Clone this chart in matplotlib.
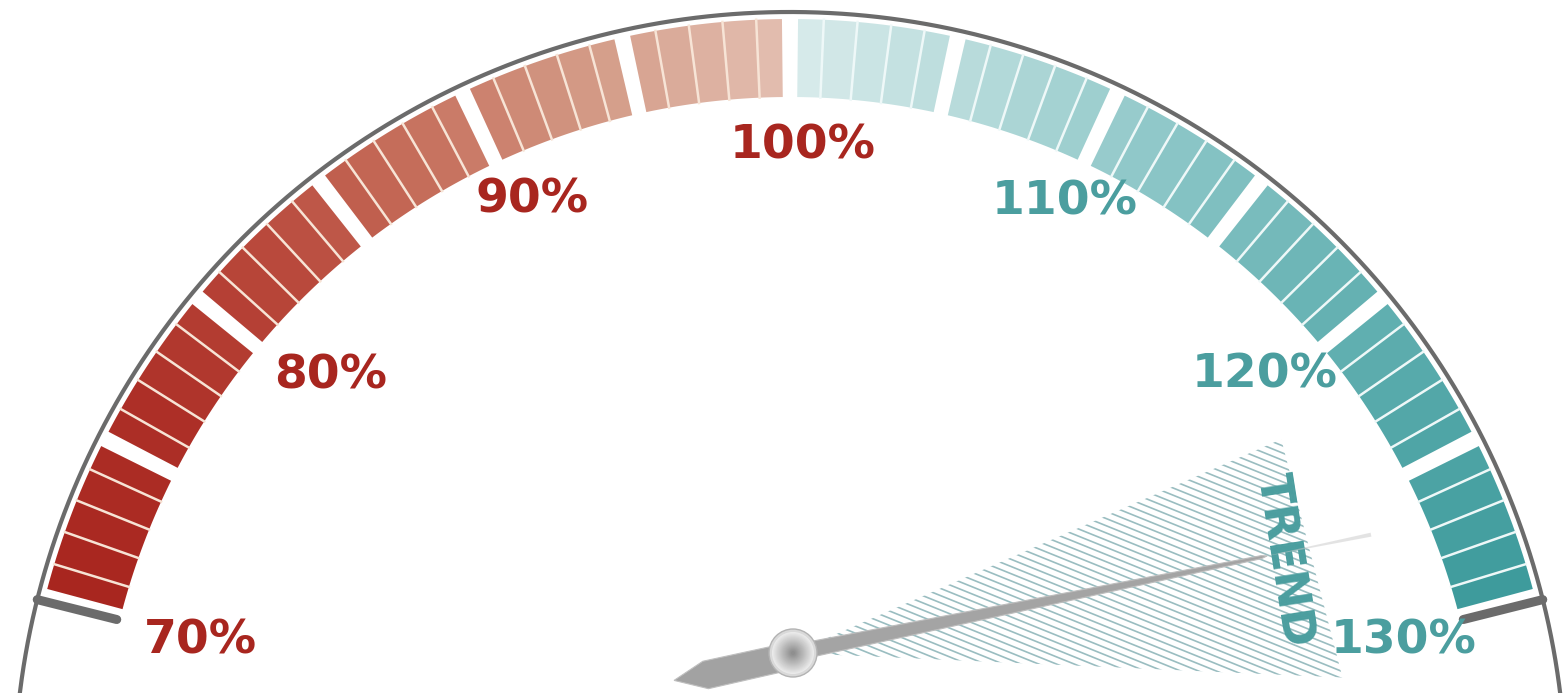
import numpy as np
import matplotlib.pyplot as plt
from matplotlib.patches import Wedge, Polygon, Circle
from matplotlib.collections import LineCollection
from matplotlib.colors import LinearSegmentedColormap

# gauge data
scale_min = 70
scale_max = 130
tick_values = [70, 80, 90, 100, 110, 120, 130]
tick_labels = ["70%", "80%", "90%", "100%", "110%", "120%", "130%"]
block_values = list(range(70, 130))   # one block per percent
group_size = 5
needle_value = 127
trend_low = 122.5
trend_high = 132.5
trend_label = "TREND"

# geometry (pixel-like units, origin at arc centre)
DEG_PER_UNIT = 2.52
R_OUT, R_IN, R_RIM = 769, 691, 776
R_MID = 730
GAP = 1.2
PIVOT = np.array([3.0, 135.0])

RED = "#a8261f"
TEAL = "#4b9e9f"
GREY = "#6b6b6b"

left_cmap = LinearSegmentedColormap.from_list(
    "left", ["#a8261f", "#ad2f27", "#b8473a", "#c66f5c", "#d39a86", "#e2bcae"])
right_cmap = LinearSegmentedColormap.from_list(
    "right", ["#d6eaea", "#b3d9d9", "#8cc6c7", "#6cb5b6", "#52a7a8", "#3e9b9c"])


def ang(v):
    return 90 + (100 - v) * DEG_PER_UNIT


def pol(r, a):
    t = np.radians(a)
    return np.array([r * np.cos(t), r * np.sin(t)])


def pivot_dir(v):
    p = pol(R_MID, ang(v)) - PIVOT
    return np.degrees(np.arctan2(p[1], p[0]))


fig = plt.figure(figsize=(15.67, 6.93), dpi=100)
ax = fig.add_axes([0, 0, 1, 1])
ax.set_xlim(-790, 777)
ax.set_ylim(95, 788)
ax.axis("off")

# outer rim
th = np.linspace(0, 180, 400)
ax.plot(R_RIM * np.cos(np.radians(th)), R_RIM * np.sin(np.radians(th)),
        color=GREY, lw=3.0, zorder=1)

# blocks
for v in block_values:
    a1, a2 = ang(v + 1), ang(v)
    if (v - scale_min) % group_size == 0:
        a2 -= GAP / 2
    if (v + 1 - scale_min) % group_size == 0:
        a1 += GAP / 2
    if v < 100:
        c = left_cmap((v - scale_min) / 29)
    else:
        c = right_cmap((v - 100) / 29)
    ax.add_patch(Wedge((0, 0), R_OUT, a1, a2, width=R_OUT - R_IN,
                       facecolor=c, edgecolor="none", zorder=2))
    if (v - scale_min) % group_size != 0:
        p1, p2 = pol(R_IN, ang(v)), pol(R_OUT, ang(v))
        sc = "#f7e4d6" if v < 100 else "#eef8f8"
        ax.plot([p1[0], p2[0]], [p1[1], p2[1]], color=sc, lw=1.8, zorder=3)

# end caps
for v, d in [(scale_min, 0.35), (scale_max, -0.35)]:
    p1, p2 = pol(R_IN + 3, ang(v) + d), pol(R_RIM, ang(v) + d)
    ax.plot([p1[0], p2[0]], [p1[1], p2[1]], color=GREY, lw=6.5,
            solid_capstyle="round", zorder=1.5)

# tick labels
label_r = [609, 621, 647, 648, 652, 633, 632]
label_nudge = [-0.1, -2.7, -1.7, -1.15, 0.3, 1.75, -0.4]
for v, lab, r, dn in zip(tick_values, tick_labels, label_r, label_nudge):
    p = pol(r, ang(v) + dn)
    ax.text(p[0], p[1] - 18, lab, ha="center", va="baseline", fontsize=34,
            fontweight="bold", family="DejaVu Sans",
            color=RED if v <= 100 else TEAL, zorder=4)

# trend fan
a_hi, a_lo = pivot_dir(trend_low), pivot_dir(trend_high)
fan_pts = [PIVOT, PIVOT + pol(533, a_hi), PIVOT + pol(550, a_lo)]
fan = Polygon(fan_pts, closed=True, facecolor="none", edgecolor="none")
ax.add_patch(fan)
slope = np.tan(np.radians(-22))
segs = []
for y0 in np.arange(-150, 800, 7.2):
    segs.append([(0, y0), (700, y0 + 700 * slope)])
lc = LineCollection(segs, colors="#8fb6ba", linewidths=1.2, alpha=0.9, zorder=3)
ax.add_collection(lc)
lc.set_clip_path(fan)

# trend label
ax.text(494, 228, trend_label, rotation=-81, rotation_mode="anchor",
        ha="center", va="center", fontsize=33, fontweight="bold",
        family="DejaVu Sans", color=TEAL, zorder=4)

# needle
na = pivot_dir(needle_value)
u = pol(1, na)
n = pol(1, na + 90)


def local(pts):
    return [PIVOT + a * u + b * n for a, b in pts]


ax.add_patch(Polygon(local([(480, 0), (590, 2), (590, -2)]), closed=True,
                     facecolor="#c9c9c9", edgecolor="none", alpha=0.5, zorder=5))
ax.add_patch(Polygon(local([(0, 8), (478, 1.5), (484, 0), (478, -1.5), (0, -8)]),
                     closed=True, facecolor="#a4a4a4", edgecolor="#bdbdbd",
                     lw=0.8, zorder=6))
ax.add_patch(Polygon(local([(0, 11), (-90, 10), (-122, -3), (-90, -18), (0, -16)]),
                     closed=True, facecolor="#a2a2a2", edgecolor="#bfbfbf",
                     lw=0.8, zorder=6))

# pivot cap
ax.add_patch(Circle(PIVOT, 24, facecolor="#d9d9d9", edgecolor="#b3b3b3",
                    lw=1.0, zorder=7))
for i, r in enumerate(np.linspace(21, 2, 20)):
    g = 0.92 - 0.36 * i / 19
    ax.add_patch(Circle(PIVOT, r, facecolor=(g, g, g), edgecolor="none", zorder=7))

fig.savefig("out.png", dpi=100, facecolor="white")
